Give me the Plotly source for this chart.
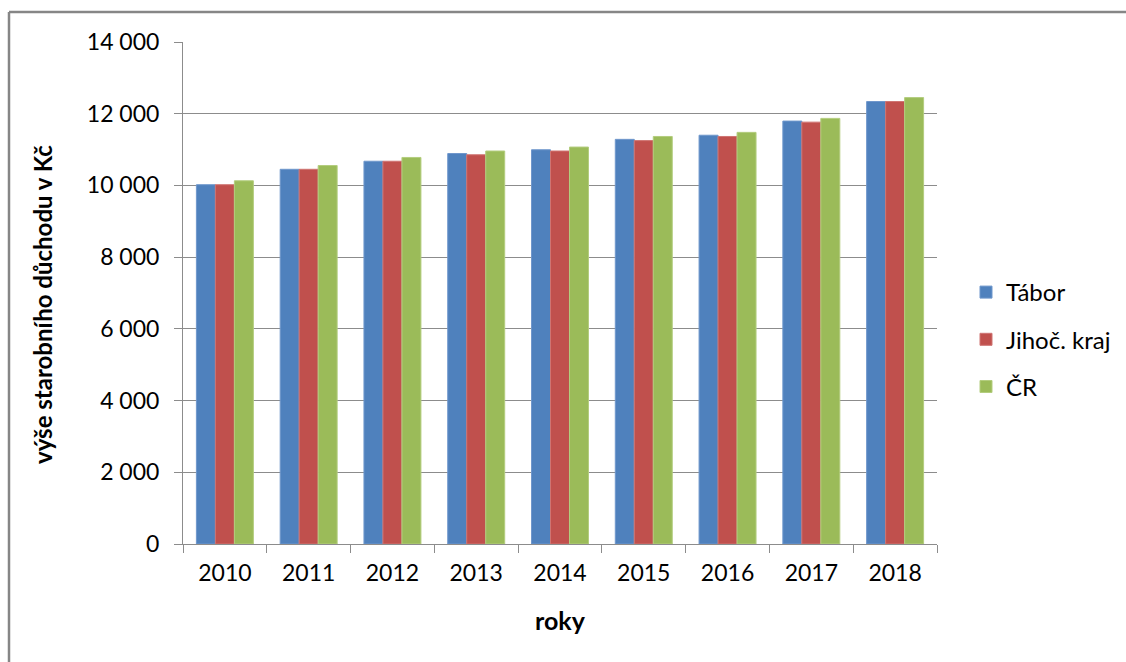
import plotly.graph_objects as go

years = ["2010", "2011", "2012", "2013", "2014", "2015", "2016", "2017", "2018"]
tabor = [10020, 10450, 10675, 10890, 10995, 11285, 11400, 11795, 12340]
jihoc = [10020, 10450, 10675, 10855, 10960, 11250, 11365, 11765, 12340]
cr = [10130, 10555, 10780, 10960, 11070, 11365, 11480, 11870, 12450]
series_names = ["Tábor", "Jihoč. kraj", "ČR"]
colors = ["#4F81BD", "#C0504D", "#9BBB59"]
edge_colors = ["#6F97CC", "#CF7472", "#B3CD7E"]
y_ticks = [0, 2000, 4000, 6000, 8000, 10000, 12000, 14000]

FONT = "Lato, Open Sans, sans-serif"

fig = go.Figure()
for i, (name, vals) in enumerate(zip(series_names, [tabor, jihoc, cr])):
    fig.add_trace(go.Bar(
        x=years, y=vals, name=name, legendgroup=name,
        marker=dict(color=colors[i], line=dict(color=edge_colors[i], width=1)),
    ))

W, H = 1126, 662
L, R, T, B = 183, 1126 - 937, 42, 662 - 544
pw, ph = W - L - R, H - T - B

def px_x(px):
    return (px - L) / pw

def px_y(py):
    return (H - B - py) / ph

grid = "#8C8C8C"
fig.update_layout(
    width=W, height=H,
    margin=dict(l=L, r=R, t=T, b=B, autoexpand=False),
    paper_bgcolor="white", plot_bgcolor="white",
    barmode="group", bargap=0.32, bargroupgap=0,
    separators=", ",
    font=dict(family=FONT, size=23, color="#000000"),
    showlegend=True,
    legend=dict(
        x=px_x(966), y=px_y(270), xanchor="left", yanchor="top",
        font=dict(family=FONT, size=24, color="#000000"),
        tracegroupgap=13, itemwidth=30, bgcolor="rgba(0,0,0,0)",
    ),
    xaxis=dict(
        type="category", showline=True, linecolor=grid, linewidth=1,
        ticks="outside", tickson="boundaries", ticklen=8, tickcolor=grid,
        showgrid=False, tickfont=dict(family=FONT, size=23, color="#000000"),
        ticklabelstandoff=8,
    ),
    yaxis=dict(
        range=[0, 14000], tickvals=y_ticks, tickformat=",d",
        showline=True, linecolor=grid, linewidth=1,
        ticks="outside", ticklen=8, tickcolor=grid,
        showgrid=True, gridcolor=grid, gridwidth=1, zeroline=False,
        tickfont=dict(family=FONT, size=23, color="#000000"),
        ticklabelstandoff=10,
    ),
    annotations=[
        dict(text="<b>výše starobního důchodu v Kč</b>", xref="paper", yref="paper",
             x=px_x(42), y=px_y(305), textangle=-90, showarrow=False,
             font=dict(family=FONT, size=24, color="#000000"),
             xanchor="center", yanchor="middle"),
        dict(text="<b>roky</b>", xref="paper", yref="paper",
             x=px_x(560), y=px_y(620), showarrow=False,
             font=dict(family=FONT, size=25, color="#000000"),
             xanchor="center", yanchor="middle"),
    ],
    shapes=[
        dict(type="line", xref="paper", yref="paper", x0=px_x(9), x1=px_x(1130),
             y0=px_y(12), y1=px_y(12), line=dict(color="#868686", width=2.5)),
        dict(type="line", xref="paper", yref="paper", x0=px_x(9), x1=px_x(9),
             y0=px_y(12), y1=px_y(670), line=dict(color="#868686", width=2.5)),
    ],
)

fig.write_html("out.html", config={"displayModeBar": False},
               post_script="document.body.style.margin='0px';document.body.style.padding='0px';")
